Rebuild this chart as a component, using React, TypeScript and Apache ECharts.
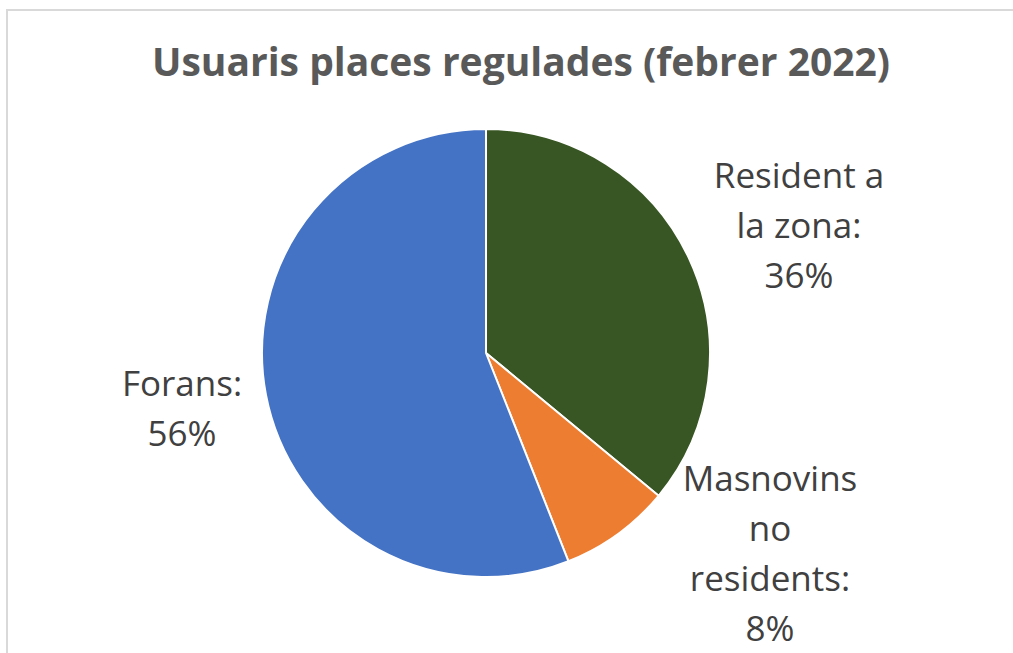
import React, { useEffect, useRef } from "react";
import * as echarts from "echarts";

const titleText = "Usuaris places regulades (febrer 2022)";
const categories = ["Resident a la zona", "Masnovins no residents", "Forans"];
const labelLines = [["Resident a", "la zona:"], ["Masnovins", "no", "residents:"], ["Forans:"]];
const values = [36, 8, 56];
const colors = ["#375623", "#ED7D31", "#4472C4"];
const labelPos = [
  [799, 224],
  [770, 552],
  [182, 407],
];

export default function App() {
  const ref = useRef<HTMLDivElement>(null);
  useEffect(() => {
    const chart = echarts.init(ref.current!, null, { renderer: "svg" });
    const total = values.reduce((a, b) => a + b, 0);
    chart.setOption({
      animation: false,
      backgroundColor: "#ffffff",
      title: {
        text: titleText,
        left: 516,
        textAlign: "center",
        top: 36,
        textStyle: {
          fontFamily: "Open Sans",
          fontWeight: "bold",
          fontSize: 39,
          color: "#595959",
        },
      },
      graphic: [
        {
          type: "rect",
          shape: { x: 7, y: 10, width: 1030, height: 700 },
          style: { fill: "none", stroke: "#d9d9d9", lineWidth: 2 },
          silent: true,
        },
      ],
      series: [
        {
          type: "pie",
          center: [486, 353],
          radius: 224,
          startAngle: 90,
          clockwise: true,
          data: categories.map((c, i) => ({
            name: c,
            value: values[i],
            itemStyle: { color: colors[i] },
          })),
          itemStyle: { borderColor: "#ffffff", borderWidth: 2 },
          label: {
            show: true,
            position: "outside",
            fontFamily: "Open Sans",
            fontSize: 35,
            lineHeight: 50,
            color: "#404040",
            align: "center",
            formatter: (p: any) =>
              [...labelLines[p.dataIndex], Math.round((p.value / total) * 100) + "%"].join("\n"),
          },
          labelLine: { show: false },
          labelLayout: (p: any) => ({
            x: labelPos[p.dataIndex][0],
            y: labelPos[p.dataIndex][1],
            align: "center",
            verticalAlign: "middle",
          }),
        },
      ],
    });
    return () => chart.dispose();
  }, []);
  return (
    <div
      ref={ref}
      style={{ position: "fixed", left: 0, top: 0, width: 1013, height: 653 }}
    />
  );
}
